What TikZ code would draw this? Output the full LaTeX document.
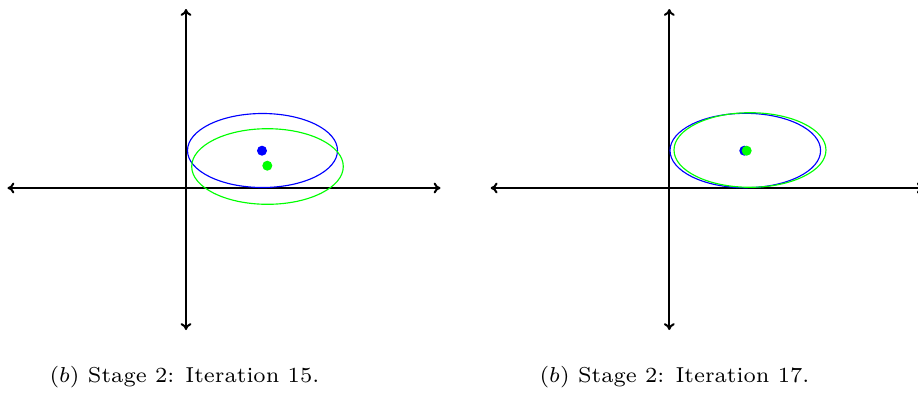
\documentclass[tikz,border=0pt]{standalone}
\usepackage{amsmath}
\usetikzlibrary{arrows.meta,positioning}
\definecolor{meanblue}{RGB}{0,0,255}
\definecolor{meangreen}{RGB}{0,255,0}
\tikzset{
  axisline/.style={{To[length=2.4pt,width=3.8pt]}-{To[length=2.4pt,width=3.8pt]}, line width=0.7pt, black},
  blueellipse/.style={draw=meanblue, line width=0.4pt},
  greenellipse/.style={draw=meangreen, line width=0.4pt},
  bluedot/.style={circle, fill=meanblue, inner sep=0pt, minimum size=3.5pt},
  greendot/.style={circle, fill=meangreen, inner sep=0pt, minimum size=3.5pt},
  subcap/.style={anchor=base, inner sep=0pt, scale=1.08, font=\fontsize{7}{8}\selectfont}
}
\begin{document}
\begin{tikzpicture}[x=0.35pt,y=-0.35pt]
  \useasboundingbox (0,0) rectangle (918,394);
  % left panel: iteration 15
  \coordinate (xlA) at (7.5,188);
  \coordinate (xrA) at (440.5,188);
  \coordinate (ytA) at (186,9);
  \coordinate (ybA) at (186,330);
  \draw[axisline] (xlA) -- (xrA);
  \draw[axisline] (ytA) -- (ybA);
  \draw[blueellipse] (262.5,150.5) ellipse [x radius=75, y radius=37];
  \draw[greenellipse] (267.5,166.5) ellipse [x radius=75.8, y radius=37.8];
  \node[bluedot] (muA) at (262,150.7) {};
  \node[greendot] (nuA) at (267.3,165.7) {};
  \node[subcap] (capA) at (184.4,382) {$(b)$ Stage 2: Iteration 15.};
  % right panel: iteration 17
  \coordinate (xlB) at (490.7,188);
  \coordinate (xrB) at (923.7,188);
  \coordinate (ytB) at (669.3,9);
  \coordinate (ybB) at (669.3,330);
  \draw[axisline] (xlB) -- (xrB);
  \draw[axisline] (ytB) -- (ybB);
  \draw[blueellipse] (745.3,150.5) ellipse [x radius=75.3, y radius=37.2];
  \draw[greenellipse] (750,150) ellipse [x radius=76, y radius=37.3];
  \node[bluedot] (muB) at (744.3,150.7) {};
  \node[greendot] (nuB) at (746.7,150.7) {};
  \node[subcap] (capB) at (674.5,382) {$(b)$ Stage 2: Iteration 17.};
\end{tikzpicture}
\end{document}
